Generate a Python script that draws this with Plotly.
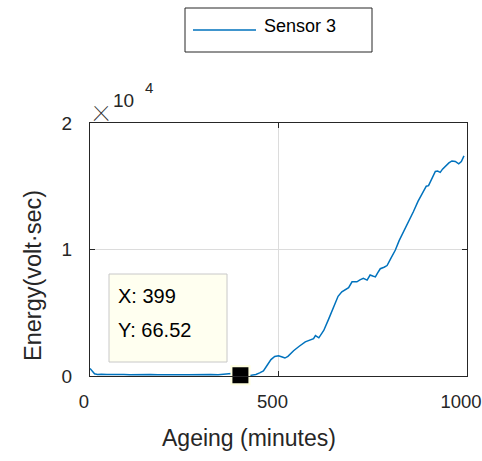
import plotly.graph_objects as go

# ---- data ----
ageing = [0, 5, 12, 20, 30, 45, 60, 75, 90, 105, 120, 140, 160, 180, 200, 220, 240, 260, 280, 300,
          320, 340, 360, 375, 390, 399, 410, 425, 440, 450, 460, 470, 480, 490, 500, 510, 517, 525,
          540, 555, 571, 593, 598, 607, 620, 633, 646, 658, 668, 678, 686, 695, 708, 716, 725, 735,
          743, 750, 757, 763, 770, 780, 788, 798, 810, 820, 832, 845, 858, 870, 885, 892, 898, 907,
          916, 922, 929, 935, 942, 952, 960, 969, 978, 985, 992]
energy = [600, 450, 180, 120, 140, 110, 130, 100, 120, 90, 110, 80, 120, 90, 110, 80, 100, 90, 110, 80,
          120, 100, 150, 200, 120, 66.52, 40, 50, 120, 250, 400, 850, 1300, 1550, 1600, 1500, 1420, 1550,
          2000, 2350, 2700, 2950, 3200, 3020, 3600, 4500, 5450, 6300, 6650, 6800, 6980, 7450, 7450, 7600,
          7720, 7580, 7980, 7900, 7830, 8150, 8480, 8600, 8730, 9300, 9960, 10700, 11400, 12200, 13000,
          13800, 14700, 15000, 15050, 15600, 16170, 16200, 16100, 16350, 16560, 16850, 17000, 16960,
          16770, 16950, 17400]
series_name = "Sensor 3"
tip_x = 399
tip_y = 66.52
x_ticks = [0, 500, 1000]
x_tick_labels = ["0", "500", "1000"]
y_ticks = [0, 10000, 20000]
y_tick_labels = ["0", "1", "2"]

# ---- layout helpers (pixel -> paper) ----
W, H = 482, 461
L, R, T, B = 90, 15, 123, 85
PW, PH = W - L - R, H - T - B

def px(x):
    return (x - L) / PW

def py(y):
    return (H - B - y) / PH

FONT = "Liberation Sans, Arial, sans-serif"
AX = "#262626"
BLUE = "#0072BD"

fig = go.Figure()
fig.add_trace(go.Scatter(x=ageing, y=energy, mode="lines", name=series_name,
                         line=dict(color=BLUE, width=1.5), showlegend=False))
fig.add_trace(go.Scatter(x=[tip_x], y=[tip_y], mode="markers", showlegend=False,
                         marker=dict(symbol="square", size=18, color="black",
                                     line=dict(color="#FFFFE0", width=2)),
                         cliponaxis=False))

axis_common = dict(showline=True, linecolor=AX, linewidth=1, mirror="ticks", ticks="inside",
                   ticklen=5, tickcolor=AX, showgrid=True, gridcolor="#DCDCDC", gridwidth=1,
                   zeroline=False, ticklabeloverflow="allow", automargin=False)

fig.update_layout(
    width=W, height=H,
    margin=dict(l=L, r=R, t=T, b=B, autoexpand=False),
    paper_bgcolor="white", plot_bgcolor="white",
    xaxis=dict(range=[0, 1000], tickvals=x_ticks, ticktext=x_tick_labels,
               ticklabelstandoff=9, ticklabelshift=-6,
               tickfont=dict(family=FONT, size=18.5, color=AX), **axis_common),
    yaxis=dict(range=[0, 20000], tickvals=y_ticks, ticktext=y_tick_labels,
               ticklabelstandoff=13,
               tickfont=dict(family=FONT, size=19, color=AX), **axis_common),
    shapes=[
        # data tip box
        dict(type="rect", xref="paper", yref="paper", x0=px(109), x1=px(227), y0=py(362), y1=py(274),
             fillcolor="#FFFFF0", line=dict(color="#C8C8C8", width=1), layer="above"),
        # legend box
        dict(type="rect", xref="paper", yref="paper", x0=px(185), x1=px(372), y0=py(52), y1=py(8),
             fillcolor="white", line=dict(color=AX, width=1)),
        dict(type="line", xref="paper", yref="paper", x0=px(193), x1=px(256), y0=py(30), y1=py(30),
             line=dict(color=BLUE, width=1.5)),
    ],
    annotations=[
        dict(text="Ageing (minutes)", xref="paper", yref="paper", x=px(249), y=py(438),
             showarrow=False, xanchor="center", yanchor="middle",
             font=dict(family=FONT, size=23, color=AX)),
        dict(text="Energy(volt·sec)", xref="paper", yref="paper", x=px(33), y=py(276),
             showarrow=False, xanchor="center", yanchor="middle", textangle=-90,
             font=dict(family=FONT, size=23.5, color=AX)),
        dict(text="×", xref="paper", yref="paper", x=px(101), y=py(109),
             showarrow=False, xanchor="center", yanchor="middle",
             font=dict(family="Roboto, Lato, sans-serif", size=36, color="#333333", weight=100)),
        dict(text="10", xref="paper", yref="paper", x=px(123), y=py(100),
             showarrow=False, xanchor="center", yanchor="middle",
             font=dict(family=FONT, size=19, color=AX)),
        dict(text="4", xref="paper", yref="paper", x=px(148.5), y=py(88),
             showarrow=False, xanchor="center", yanchor="middle",
             font=dict(family=FONT, size=15, color=AX)),
        dict(text=f"X: {tip_x}", xref="paper", yref="paper", x=px(116), y=py(296),
             showarrow=False, xanchor="left", yanchor="middle",
             font=dict(family=FONT, size=20, color="black")),
        dict(text=f"Y: {tip_y}", xref="paper", yref="paper", x=px(116), y=py(330),
             showarrow=False, xanchor="left", yanchor="middle",
             font=dict(family=FONT, size=20, color="black")),
        dict(text=series_name, xref="paper", yref="paper", x=px(262), y=py(26),
             showarrow=False, xanchor="left", yanchor="middle",
             font=dict(family=FONT, size=18, color="black")),
    ],
)

fig.write_html("out.html")
